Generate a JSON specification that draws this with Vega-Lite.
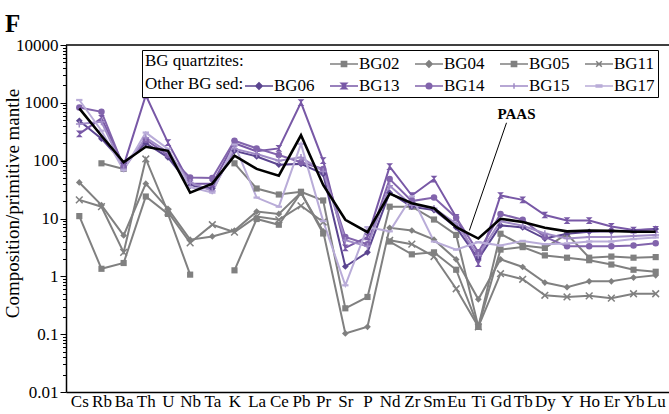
{
  "$schema": "https://vega.github.io/schema/vega-lite/v6.json",
  "autosize": "none",
  "width": 603,
  "height": 347,
  "padding": {"left": 66, "top": 45, "right": 0, "bottom": 22},
  "background": "white",
  "config": {
    "font": "Liberation Serif",
    "view": {"stroke": null},
    "style": {"guide-label": {"font": "Liberation Serif"}, "guide-title": {"font": "Liberation Serif"}},
    "axis": {"domainColor": "black", "domainWidth": 1.5, "tickColor": "black", "labelColor": "black", "labelFontSize": 17, "titleColor": "black", "grid": false, "labelFont": "Liberation Serif", "titleFont": "Liberation Serif"},
    "legend": {"labelFont": "Liberation Serif", "titleFont": "Liberation Serif", "labelFontSize": 17}
  },
  "title": {"text": "F", "anchor": "start", "frame": "group", "font": "Liberation Serif", "fontSize": 25, "fontWeight": "bold", "color": "black", "baseline": "alphabetic", "dx": -61, "dy": 26, "offset": 5},
  "datasets": {
    "samples": [
      {"sample":"BG02","element":"Cs","value":11},{"sample":"BG02","element":"Rb","value":1.35},{"sample":"BG02","element":"Ba","value":1.7},{"sample":"BG02","element":"Th","value":24},{"sample":"BG02","element":"U","value":12},{"sample":"BG02","element":"Nb","value":1.07},{"sample":"BG02","element":"Ta","value":null},{"sample":"BG02","element":"K","value":1.27},{"sample":"BG02","element":"La","value":9.8},{"sample":"BG02","element":"Ce","value":7.8},{"sample":"BG02","element":"Pb","value":28},{"sample":"BG02","element":"Pr","value":5.5},{"sample":"BG02","element":"Sr","value":null},{"sample":"BG02","element":"P","value":null},{"sample":"BG02","element":"Nd","value":4},{"sample":"BG02","element":"Zr","value":2.4},{"sample":"BG02","element":"Sm","value":2.6},{"sample":"BG02","element":"Eu","value":1.3},{"sample":"BG02","element":"Ti","value":0.134},{"sample":"BG02","element":"Gd","value":2.9},{"sample":"BG02","element":"Tb","value":3.2},{"sample":"BG02","element":"Dy","value":2.3},{"sample":"BG02","element":"Y","value":2.1},{"sample":"BG02","element":"Ho","value":1.9},{"sample":"BG02","element":"Er","value":1.6},{"sample":"BG02","element":"Yb","value":1.3},{"sample":"BG02","element":"Lu","value":1.2},
      {"sample":"BG04","element":"Cs","value":42},{"sample":"BG04","element":"Rb","value":17},{"sample":"BG04","element":"Ba","value":5.1},{"sample":"BG04","element":"Th","value":40},{"sample":"BG04","element":"U","value":14.7},{"sample":"BG04","element":"Nb","value":4.3},{"sample":"BG04","element":"Ta","value":4.9},{"sample":"BG04","element":"K","value":6.2},{"sample":"BG04","element":"La","value":13.2},{"sample":"BG04","element":"Ce","value":12},{"sample":"BG04","element":"Pb","value":28},{"sample":"BG04","element":"Pr","value":6},{"sample":"BG04","element":"Sr","value":0.103},{"sample":"BG04","element":"P","value":0.134},{"sample":"BG04","element":"Nd","value":6.9},{"sample":"BG04","element":"Zr","value":6.2},{"sample":"BG04","element":"Sm","value":4.3},{"sample":"BG04","element":"Eu","value":1.96},{"sample":"BG04","element":"Ti","value":0.4},{"sample":"BG04","element":"Gd","value":1.97},{"sample":"BG04","element":"Tb","value":1.45},{"sample":"BG04","element":"Dy","value":0.78},{"sample":"BG04","element":"Y","value":0.65},{"sample":"BG04","element":"Ho","value":0.82},{"sample":"BG04","element":"Er","value":0.82},{"sample":"BG04","element":"Yb","value":0.95},{"sample":"BG04","element":"Lu","value":1.04},
      {"sample":"BG05","element":"Cs","value":null},{"sample":"BG05","element":"Rb","value":90},{"sample":"BG05","element":"Ba","value":72},{"sample":"BG05","element":"Th","value":null},{"sample":"BG05","element":"U","value":null},{"sample":"BG05","element":"Nb","value":null},{"sample":"BG05","element":"Ta","value":null},{"sample":"BG05","element":"K","value":90},{"sample":"BG05","element":"La","value":33},{"sample":"BG05","element":"Ce","value":26},{"sample":"BG05","element":"Pb","value":29},{"sample":"BG05","element":"Pr","value":20.5},{"sample":"BG05","element":"Sr","value":0.28},{"sample":"BG05","element":"P","value":0.44},{"sample":"BG05","element":"Nd","value":16},{"sample":"BG05","element":"Zr","value":16},{"sample":"BG05","element":"Sm","value":9.6},{"sample":"BG05","element":"Eu","value":5.2},{"sample":"BG05","element":"Ti","value":0.134},{"sample":"BG05","element":"Gd","value":5.45},{"sample":"BG05","element":"Tb","value":3.4},{"sample":"BG05","element":"Dy","value":3.1},{"sample":"BG05","element":"Y","value":5.4},{"sample":"BG05","element":"Ho","value":2.1},{"sample":"BG05","element":"Er","value":2.2},{"sample":"BG05","element":"Yb","value":2.1},{"sample":"BG05","element":"Lu","value":2.15},
      {"sample":"BG11","element":"Cs","value":21},{"sample":"BG11","element":"Rb","value":16},{"sample":"BG11","element":"Ba","value":2.6},{"sample":"BG11","element":"Th","value":107},{"sample":"BG11","element":"U","value":12.9},{"sample":"BG11","element":"Nb","value":3.8},{"sample":"BG11","element":"Ta","value":7.8},{"sample":"BG11","element":"K","value":5.8},{"sample":"BG11","element":"La","value":10.8},{"sample":"BG11","element":"Ce","value":9.5},{"sample":"BG11","element":"Pb","value":16.6},{"sample":"BG11","element":"Pr","value":8.7},{"sample":"BG11","element":"Sr","value":null},{"sample":"BG11","element":"P","value":null},{"sample":"BG11","element":"Nd","value":4.2},{"sample":"BG11","element":"Zr","value":3.6},{"sample":"BG11","element":"Sm","value":2.2},{"sample":"BG11","element":"Eu","value":0.61},{"sample":"BG11","element":"Ti","value":0.134},{"sample":"BG11","element":"Gd","value":1.11},{"sample":"BG11","element":"Tb","value":0.89},{"sample":"BG11","element":"Dy","value":0.47},{"sample":"BG11","element":"Y","value":0.44},{"sample":"BG11","element":"Ho","value":0.46},{"sample":"BG11","element":"Er","value":0.42},{"sample":"BG11","element":"Yb","value":0.5},{"sample":"BG11","element":"Lu","value":0.5},
      {"sample":"BG06","element":"Cs","value":490},{"sample":"BG06","element":"Rb","value":240},{"sample":"BG06","element":"Ba","value":90},{"sample":"BG06","element":"Th","value":200},{"sample":"BG06","element":"U","value":114},{"sample":"BG06","element":"Nb","value":37},{"sample":"BG06","element":"Ta","value":33},{"sample":"BG06","element":"K","value":148},{"sample":"BG06","element":"La","value":118},{"sample":"BG06","element":"Ce","value":85},{"sample":"BG06","element":"Pb","value":88},{"sample":"BG06","element":"Pr","value":59},{"sample":"BG06","element":"Sr","value":1.48},{"sample":"BG06","element":"P","value":2.6},{"sample":"BG06","element":"Nd","value":28},{"sample":"BG06","element":"Zr","value":16},{"sample":"BG06","element":"Sm","value":14},{"sample":"BG06","element":"Eu","value":7},{"sample":"BG06","element":"Ti","value":2},{"sample":"BG06","element":"Gd","value":7.6},{"sample":"BG06","element":"Tb","value":7},{"sample":"BG06","element":"Dy","value":4.5},{"sample":"BG06","element":"Y","value":5.45},{"sample":"BG06","element":"Ho","value":5.9},{"sample":"BG06","element":"Er","value":6},{"sample":"BG06","element":"Yb","value":6.2},{"sample":"BG06","element":"Lu","value":6.6},
      {"sample":"BG13","element":"Cs","value":290},{"sample":"BG13","element":"Rb","value":540},{"sample":"BG13","element":"Ba","value":82},{"sample":"BG13","element":"Th","value":1350},{"sample":"BG13","element":"U","value":205},{"sample":"BG13","element":"Nb","value":40},{"sample":"BG13","element":"Ta","value":40},{"sample":"BG13","element":"K","value":200},{"sample":"BG13","element":"La","value":145},{"sample":"BG13","element":"Ce","value":163},{"sample":"BG13","element":"Pb","value":1010},{"sample":"BG13","element":"Pr","value":100},{"sample":"BG13","element":"Sr","value":3.1},{"sample":"BG13","element":"P","value":4.8},{"sample":"BG13","element":"Nd","value":79},{"sample":"BG13","element":"Zr","value":25},{"sample":"BG13","element":"Sm","value":48},{"sample":"BG13","element":"Eu","value":10.5},{"sample":"BG13","element":"Ti","value":1.66},{"sample":"BG13","element":"Gd","value":25},{"sample":"BG13","element":"Tb","value":21},{"sample":"BG13","element":"Dy","value":11.5},{"sample":"BG13","element":"Y","value":9.2},{"sample":"BG13","element":"Ho","value":9.2},{"sample":"BG13","element":"Er","value":7.3},{"sample":"BG13","element":"Yb","value":6.3},{"sample":"BG13","element":"Lu","value":6.5},
      {"sample":"BG14","element":"Cs","value":830},{"sample":"BG14","element":"Rb","value":700},{"sample":"BG14","element":"Ba","value":78},{"sample":"BG14","element":"Th","value":230},{"sample":"BG14","element":"U","value":125},{"sample":"BG14","element":"Nb","value":51},{"sample":"BG14","element":"Ta","value":50},{"sample":"BG14","element":"K","value":221},{"sample":"BG14","element":"La","value":163},{"sample":"BG14","element":"Ce","value":125},{"sample":"BG14","element":"Pb","value":94},{"sample":"BG14","element":"Pr","value":72},{"sample":"BG14","element":"Sr","value":4.8},{"sample":"BG14","element":"P","value":3.6},{"sample":"BG14","element":"Nd","value":48},{"sample":"BG14","element":"Zr","value":20},{"sample":"BG14","element":"Sm","value":23},{"sample":"BG14","element":"Eu","value":10.3},{"sample":"BG14","element":"Ti","value":2.6},{"sample":"BG14","element":"Gd","value":12},{"sample":"BG14","element":"Tb","value":9.5},{"sample":"BG14","element":"Dy","value":4.8},{"sample":"BG14","element":"Y","value":3.3},{"sample":"BG14","element":"Ho","value":3.3},{"sample":"BG14","element":"Er","value":3.3},{"sample":"BG14","element":"Yb","value":3.4},{"sample":"BG14","element":"Lu","value":3.75},
      {"sample":"BG15","element":"Cs","value":430},{"sample":"BG15","element":"Rb","value":470},{"sample":"BG15","element":"Ba","value":72},{"sample":"BG15","element":"Th","value":250},{"sample":"BG15","element":"U","value":140},{"sample":"BG15","element":"Nb","value":42},{"sample":"BG15","element":"Ta","value":30},{"sample":"BG15","element":"K","value":160},{"sample":"BG15","element":"La","value":130},{"sample":"BG15","element":"Ce","value":100},{"sample":"BG15","element":"Pb","value":114},{"sample":"BG15","element":"Pr","value":65},{"sample":"BG15","element":"Sr","value":4.2},{"sample":"BG15","element":"P","value":3.3},{"sample":"BG15","element":"Nd","value":37},{"sample":"BG15","element":"Zr","value":17},{"sample":"BG15","element":"Sm","value":15},{"sample":"BG15","element":"Eu","value":8.1},{"sample":"BG15","element":"Ti","value":2.3},{"sample":"BG15","element":"Gd","value":9},{"sample":"BG15","element":"Tb","value":7.5},{"sample":"BG15","element":"Dy","value":5.5},{"sample":"BG15","element":"Y","value":4.5},{"sample":"BG15","element":"Ho","value":4.8},{"sample":"BG15","element":"Er","value":4.8},{"sample":"BG15","element":"Yb","value":5},{"sample":"BG15","element":"Lu","value":5.2},
      {"sample":"BG17","element":"Cs","value":1120},{"sample":"BG17","element":"Rb","value":330},{"sample":"BG17","element":"Ba","value":68},{"sample":"BG17","element":"Th","value":306},{"sample":"BG17","element":"U","value":160},{"sample":"BG17","element":"Nb","value":35},{"sample":"BG17","element":"Ta","value":28},{"sample":"BG17","element":"K","value":190},{"sample":"BG17","element":"La","value":23},{"sample":"BG17","element":"Ce","value":16},{"sample":"BG17","element":"Pb","value":195},{"sample":"BG17","element":"Pr","value":9},{"sample":"BG17","element":"Sr","value":0.7},{"sample":"BG17","element":"P","value":7.1},{"sample":"BG17","element":"Nd","value":6},{"sample":"BG17","element":"Zr","value":24},{"sample":"BG17","element":"Sm","value":4},{"sample":"BG17","element":"Eu","value":2.9},{"sample":"BG17","element":"Ti","value":3.9},{"sample":"BG17","element":"Gd","value":3.4},{"sample":"BG17","element":"Tb","value":4.1},{"sample":"BG17","element":"Dy","value":3.6},{"sample":"BG17","element":"Y","value":3.7},{"sample":"BG17","element":"Ho","value":4},{"sample":"BG17","element":"Er","value":4},{"sample":"BG17","element":"Yb","value":4.4},{"sample":"BG17","element":"Lu","value":4.7}
    ],
    "paas": [
      {"element":"Cs","value":800},{"element":"Rb","value":270},{"element":"Ba","value":94},{"element":"Th","value":174},{"element":"U","value":148},{"element":"Nb","value":28},{"element":"Ta","value":40},{"element":"K","value":122},{"element":"La","value":72},{"element":"Ce","value":55},{"element":"Pb","value":275},{"element":"Pr","value":38},{"element":"Sr","value":9.5},{"element":"P","value":5.8},{"element":"Nd","value":27},{"element":"Zr","value":18.4},{"element":"Sm","value":15},{"element":"Eu","value":7.1},{"element":"Ti","value":4.5},{"element":"Gd","value":9.9},{"element":"Tb","value":8.7},{"element":"Dy","value":6.9},{"element":"Y","value":6},{"element":"Ho","value":6.2},{"element":"Er","value":6.1},{"element":"Yb","value":5.9},{"element":"Lu","value":5.9}
    ]
  },
  "layer": [
    {
      "data": {"name": "samples"},
      "mark": {"type": "line", "strokeWidth": 2, "invalid": "break-paths-filter-domains"},
      "encoding": {
        "x": {
          "field": "element", "type": "ordinal",
          "sort": ["Cs","Rb","Ba","Th","U","Nb","Ta","K","La","Ce","Pb","Pr","Sr","P","Nd","Zr","Sm","Eu","Ti","Gd","Tb","Dy","Y","Ho","Er","Yb","Lu"],
          "scale": {"type": "point", "padding": 0.6, "domain": ["Cs","Rb","Ba","Th","U","Nb","Ta","K","La","Ce","Pb","Pr","Sr","P","Nd","Zr","Sm","Eu","Ti","Gd","Tb","Dy","Y","Ho","Er","Yb","Lu"]},
          "axis": {"title": null, "labelAngle": 0, "ticks": false, "labelPadding": 1, "labelOverlap": false, "labelFontSize": 17}
        },
        "y": {
          "field": "value", "type": "quantitative",
          "scale": {"type": "log", "domain": [0.01, 10000], "nice": false},
          "axis": {
            "values": [0.01,0.02,0.03,0.04,0.05,0.06,0.07,0.08,0.09,0.1,0.2,0.3,0.4,0.5,0.6,0.7,0.8,0.9,1,2,3,4,5,6,7,8,9,10,20,30,40,50,60,70,80,90,100,200,300,400,500,600,700,800,900,1000,2000,3000,4000,5000,6000,7000,8000,9000,10000],
            "format": "~g",
            "labelExpr": "indexof([0.01,0.1,1,10,100,1000,10000], datum.value) >= 0 ? datum.label : ''",
            "tickSize": {"condition": {"test": "indexof([0.01,0.1,1,10,100,1000,10000], datum.value) >= 0", "value": 6}, "value": 3.5},
            "tickWidth": 1,
            "labelPadding": 2,
            "labelOverlap": false,
            "labelFlush": false,
            "title": "Composition/primitive mantle",
            "titleFontSize": 19,
            "titleFontWeight": "normal",
            "titleX": -44,
            "titleY": 158
          }
        },
        "color": {
          "field": "sample", "type": "nominal", "legend": null,
          "scale": {"domain": ["BG02","BG04","BG05","BG11","BG06","BG13","BG14","BG15","BG17"], "range": ["#808080","#808080","#808080","#808080","#5b4590","#7858a6","#8264ac","#a08bc6","#b9acd8"]}
        }
      }
    },
    {
      "data": {"name": "samples"},
      "transform": [{"filter": "isValid(datum.value) && (datum.sample == 'BG02' || datum.sample == 'BG05')"}],
      "mark": {"type": "point", "shape": "square", "filled": true, "size": 38, "opacity": 1},
      "encoding": {
        "x": {"field": "element", "type": "ordinal", "scale": {"domain": ["Cs","Rb","Ba","Th","U","Nb","Ta","K","La","Ce","Pb","Pr","Sr","P","Nd","Zr","Sm","Eu","Ti","Gd","Tb","Dy","Y","Ho","Er","Yb","Lu"]}},
        "y": {"field": "value", "type": "quantitative"},
        "color": {"field": "sample", "type": "nominal", "legend": null, "scale": {"domain": ["BG02","BG04","BG05","BG11","BG06","BG13","BG14","BG15","BG17"], "range": ["#808080","#808080","#808080","#808080","#5b4590","#7858a6","#8264ac","#a08bc6","#b9acd8"]}}
      }
    },
    {
      "data": {"name": "samples"},
      "transform": [{"filter": "isValid(datum.value) && (datum.sample == 'BG04' || datum.sample == 'BG06')"}],
      "mark": {"type": "point", "shape": "diamond", "filled": true, "size": 45, "opacity": 1},
      "encoding": {
        "x": {"field": "element", "type": "ordinal", "scale": {"domain": ["Cs","Rb","Ba","Th","U","Nb","Ta","K","La","Ce","Pb","Pr","Sr","P","Nd","Zr","Sm","Eu","Ti","Gd","Tb","Dy","Y","Ho","Er","Yb","Lu"]}},
        "y": {"field": "value", "type": "quantitative"},
        "color": {"field": "sample", "type": "nominal", "legend": null, "scale": {"domain": ["BG02","BG04","BG05","BG11","BG06","BG13","BG14","BG15","BG17"], "range": ["#808080","#808080","#808080","#808080","#5b4590","#7858a6","#8264ac","#a08bc6","#b9acd8"]}}
      }
    },
    {
      "data": {"name": "samples"},
      "transform": [{"filter": "isValid(datum.value) && datum.sample == 'BG11'"}],
      "mark": {"type": "point", "shape": "M-1,-1L1,1M-1,1L1,-1", "filled": false, "size": 45, "strokeWidth": 1.5, "opacity": 1},
      "encoding": {
        "x": {"field": "element", "type": "ordinal", "scale": {"domain": ["Cs","Rb","Ba","Th","U","Nb","Ta","K","La","Ce","Pb","Pr","Sr","P","Nd","Zr","Sm","Eu","Ti","Gd","Tb","Dy","Y","Ho","Er","Yb","Lu"]}},
        "y": {"field": "value", "type": "quantitative"},
        "color": {"field": "sample", "type": "nominal", "legend": null, "scale": {"domain": ["BG02","BG04","BG05","BG11","BG06","BG13","BG14","BG15","BG17"], "range": ["#808080","#808080","#808080","#808080","#5b4590","#7858a6","#8264ac","#a08bc6","#b9acd8"]}}
      }
    },
    {
      "data": {"name": "samples"},
      "transform": [{"filter": "isValid(datum.value) && datum.sample == 'BG13'"}],
      "mark": {"type": "point", "shape": "M-1,-1H1L-1,1H1Z", "filled": true, "size": 45, "opacity": 1},
      "encoding": {
        "x": {"field": "element", "type": "ordinal", "scale": {"domain": ["Cs","Rb","Ba","Th","U","Nb","Ta","K","La","Ce","Pb","Pr","Sr","P","Nd","Zr","Sm","Eu","Ti","Gd","Tb","Dy","Y","Ho","Er","Yb","Lu"]}},
        "y": {"field": "value", "type": "quantitative"},
        "color": {"field": "sample", "type": "nominal", "legend": null, "scale": {"domain": ["BG02","BG04","BG05","BG11","BG06","BG13","BG14","BG15","BG17"], "range": ["#808080","#808080","#808080","#808080","#5b4590","#7858a6","#8264ac","#a08bc6","#b9acd8"]}}
      }
    },
    {
      "data": {"name": "samples"},
      "transform": [{"filter": "isValid(datum.value) && datum.sample == 'BG14'"}],
      "mark": {"type": "point", "shape": "circle", "filled": true, "size": 42, "opacity": 1},
      "encoding": {
        "x": {"field": "element", "type": "ordinal", "scale": {"domain": ["Cs","Rb","Ba","Th","U","Nb","Ta","K","La","Ce","Pb","Pr","Sr","P","Nd","Zr","Sm","Eu","Ti","Gd","Tb","Dy","Y","Ho","Er","Yb","Lu"]}},
        "y": {"field": "value", "type": "quantitative"},
        "color": {"field": "sample", "type": "nominal", "legend": null, "scale": {"domain": ["BG02","BG04","BG05","BG11","BG06","BG13","BG14","BG15","BG17"], "range": ["#808080","#808080","#808080","#808080","#5b4590","#7858a6","#8264ac","#a08bc6","#b9acd8"]}}
      }
    },
    {
      "data": {"name": "samples"},
      "transform": [{"filter": "isValid(datum.value) && datum.sample == 'BG15'"}],
      "mark": {"type": "point", "shape": "M-1,0H1M0,-1V1", "filled": false, "size": 45, "strokeWidth": 1.5, "opacity": 1},
      "encoding": {
        "x": {"field": "element", "type": "ordinal", "scale": {"domain": ["Cs","Rb","Ba","Th","U","Nb","Ta","K","La","Ce","Pb","Pr","Sr","P","Nd","Zr","Sm","Eu","Ti","Gd","Tb","Dy","Y","Ho","Er","Yb","Lu"]}},
        "y": {"field": "value", "type": "quantitative"},
        "color": {"field": "sample", "type": "nominal", "legend": null, "scale": {"domain": ["BG02","BG04","BG05","BG11","BG06","BG13","BG14","BG15","BG17"], "range": ["#808080","#808080","#808080","#808080","#5b4590","#7858a6","#8264ac","#a08bc6","#b9acd8"]}}
      }
    },
    {
      "data": {"name": "samples"},
      "transform": [{"filter": "isValid(datum.value) && datum.sample == 'BG17'"}],
      "mark": {"type": "point", "shape": "M-1,-0.35H1V0.35H-1Z", "filled": true, "size": 40, "opacity": 1},
      "encoding": {
        "x": {"field": "element", "type": "ordinal", "scale": {"domain": ["Cs","Rb","Ba","Th","U","Nb","Ta","K","La","Ce","Pb","Pr","Sr","P","Nd","Zr","Sm","Eu","Ti","Gd","Tb","Dy","Y","Ho","Er","Yb","Lu"]}},
        "y": {"field": "value", "type": "quantitative"},
        "color": {"field": "sample", "type": "nominal", "legend": null, "scale": {"domain": ["BG02","BG04","BG05","BG11","BG06","BG13","BG14","BG15","BG17"], "range": ["#808080","#808080","#808080","#808080","#5b4590","#7858a6","#8264ac","#a08bc6","#b9acd8"]}}
      }
    },
    {
      "data": {"name": "paas"},
      "mark": {"type": "line", "color": "black", "strokeWidth": 2.6},
      "encoding": {
        "x": {"field": "element", "type": "ordinal", "scale": {"domain": ["Cs","Rb","Ba","Th","U","Nb","Ta","K","La","Ce","Pb","Pr","Sr","P","Nd","Zr","Sm","Eu","Ti","Gd","Tb","Dy","Y","Ho","Er","Yb","Lu"]}},
        "y": {"field": "value", "type": "quantitative"}
      }
    },
    {
      "data": {"name": "samples"},
      "transform": [{"filter": "datum.sample == '_'"}],
      "mark": {"type": "point", "filled": true, "opacity": 1},
      "encoding": {
        "x": {"field": "element", "type": "ordinal", "scale": {"domain": ["Cs","Rb","Ba","Th","U","Nb","Ta","K","La","Ce","Pb","Pr","Sr","P","Nd","Zr","Sm","Eu","Ti","Gd","Tb","Dy","Y","Ho","Er","Yb","Lu"]}},
        "y": {"field": "value", "type": "quantitative"},
        "fill": {
          "field": "sample", "type": "nominal",
          "scale": {"domain": ["_","BG02","BG04","BG05","BG11","BG06","BG13","BG14","BG15","BG17"], "range": ["transparent","#808080","#808080","#808080","#808080","#5b4590","#7858a6","#8264ac","#a08bc6","#b9acd8"]},
          "legend": {
            "title": ["BG quartzites:", "Other BG sed:"],
            "orient": "none", "legendX": 76, "legendY": 5,
            "direction": "horizontal", "columns": 5, "columnPadding": 12, "rowPadding": 3,
            "symbolSize": 400, "symbolStrokeWidth": 1.5, "symbolOpacity": 1, "labelOffset": 4,
            "labelFont": "Liberation Serif", "labelFontSize": 17, "labelFontWeight": "normal", "labelColor": "black",
            "labelExpr": "datum.value == '_' ? '' : datum.label",
            "titleOrient": "left", "titleFont": "Liberation Serif", "titleFontSize": 17, "titleFontWeight": "normal", "titleColor": "black",
            "titleLineHeight": 23, "titlePadding": 4, "titleAnchor": "start", "titleBaseline": "top",
            "padding": 3, "strokeColor": "black", "fillColor": "white"
          }
        },
        "stroke": {
          "field": "sample", "type": "nominal",
          "scale": {"domain": ["_","BG02","BG04","BG05","BG11","BG06","BG13","BG14","BG15","BG17"], "range": ["transparent","#808080","#808080","#808080","#808080","#5b4590","#7858a6","#8264ac","#a08bc6","#b9acd8"]},
          "legend": {
            "title": ["BG quartzites:", "Other BG sed:"],
            "orient": "none", "legendX": 76, "legendY": 5,
            "direction": "horizontal", "columns": 5, "columnPadding": 12, "rowPadding": 3,
            "symbolSize": 400, "symbolStrokeWidth": 1.5, "symbolOpacity": 1, "labelOffset": 4,
            "labelFont": "Liberation Serif", "labelFontSize": 17, "labelFontWeight": "normal", "labelColor": "black",
            "labelExpr": "datum.value == '_' ? '' : datum.label",
            "titleOrient": "left", "titleFont": "Liberation Serif", "titleFontSize": 17, "titleFontWeight": "normal", "titleColor": "black",
            "titleLineHeight": 23, "titlePadding": 4, "titleAnchor": "start", "titleBaseline": "top",
            "padding": 3, "strokeColor": "black", "fillColor": "white"
          }
        },
        "shape": {
          "field": "sample", "type": "nominal",
          "scale": {
            "domain": ["_","BG02","BG04","BG05","BG11","BG06","BG13","BG14","BG15","BG17"],
            "range": [
              "M0,0",
              "M-1.4,0H1.4M-0.26,-0.26H0.26V0.26H-0.26Z",
              "M-1.4,0H1.4M0,-0.32L0.32,0L0,0.32L-0.32,0Z",
              "M-1.4,0H1.4M-0.26,-0.26H0.26V0.26H-0.26Z",
              "M-1.4,0H1.4M-0.28,-0.28L0.28,0.28M-0.28,0.28L0.28,-0.28",
              "M-1.4,0H1.4M0,-0.32L0.32,0L0,0.32L-0.32,0Z",
              "M-1.4,0H1.4M-0.28,-0.28H0.28L-0.28,0.28H0.28Z",
              "M-1.4,0H1.4M0.28,0A0.28,0.28,0,1,1,-0.28,0A0.28,0.28,0,1,1,0.28,0Z",
              "M-1.4,0H1.4M0,-0.28V0.28",
              "M-1.4,0H1.4M-0.28,-0.1H0.28V0.1H-0.28Z"
            ]
          },
          "legend": {
            "title": ["BG quartzites:", "Other BG sed:"],
            "orient": "none", "legendX": 76, "legendY": 5,
            "direction": "horizontal", "columns": 5, "columnPadding": 12, "rowPadding": 3,
            "symbolSize": 400, "symbolStrokeWidth": 1.5, "symbolOpacity": 1, "labelOffset": 4,
            "labelFont": "Liberation Serif", "labelFontSize": 17, "labelFontWeight": "normal", "labelColor": "black",
            "labelExpr": "datum.value == '_' ? '' : datum.label",
            "titleOrient": "left", "titleFont": "Liberation Serif", "titleFontSize": 17, "titleFontWeight": "normal", "titleColor": "black",
            "titleLineHeight": 23, "titlePadding": 4, "titleAnchor": "start", "titleBaseline": "top",
            "padding": 3, "strokeColor": "black", "fillColor": "white"
          }
        }
      }
    },
    {
      "data": {"values": [{}]},
      "mark": {"type": "rule", "color": "black", "strokeWidth": 1.5},
      "encoding": {"y": {"datum": 10000, "type": "quantitative"}}
    },
    {
      "data": {"values": [{}]},
      "mark": {"type": "rule", "color": "black", "strokeWidth": 1, "xOffset": 6, "x2Offset": -9},
      "encoding": {
        "x": {"datum": "Gd", "type": "ordinal", "scale": {"domain": ["Cs","Rb","Ba","Th","U","Nb","Ta","K","La","Ce","Pb","Pr","Sr","P","Nd","Zr","Sm","Eu","Ti","Gd","Tb","Dy","Y","Ho","Er","Yb","Lu"]}},
        "x2": {"datum": "Ti"},
        "y": {"datum": 452, "type": "quantitative"},
        "y2": {"datum": 6.2}
      }
    },
    {
      "data": {"values": [{}]},
      "mark": {"type": "text", "text": "PAAS", "font": "Liberation Serif", "fontWeight": "bold", "fontSize": 15, "color": "black", "dx": 16, "align": "center", "baseline": "middle"},
      "encoding": {
        "x": {"datum": "Gd", "type": "ordinal", "scale": {"domain": ["Cs","Rb","Ba","Th","U","Nb","Ta","K","La","Ce","Pb","Pr","Sr","P","Nd","Zr","Sm","Eu","Ti","Gd","Tb","Dy","Y","Ho","Er","Yb","Lu"]}},
        "y": {"datum": 646, "type": "quantitative"}
      }
    }
  ]
}
